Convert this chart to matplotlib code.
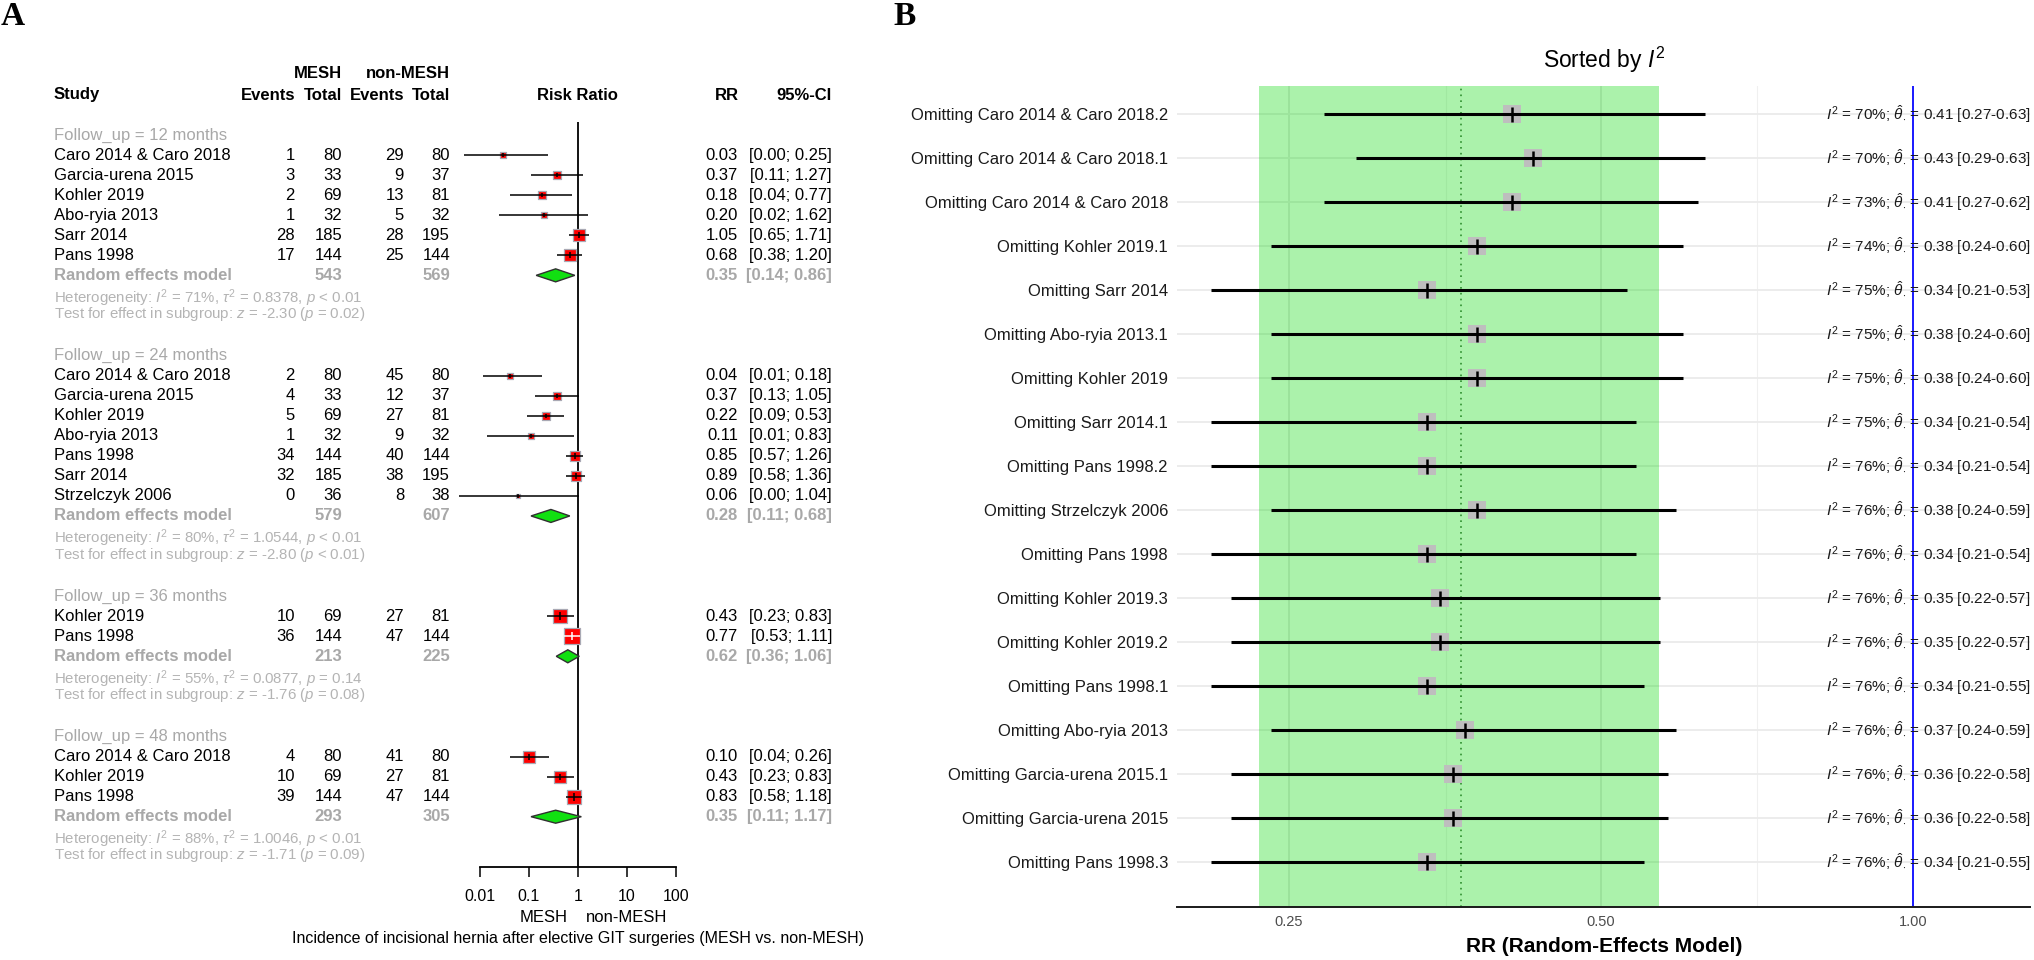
import numpy as np
import matplotlib
matplotlib.use('Agg')
import matplotlib.pyplot as plt
import matplotlib.transforms as mtransforms
from matplotlib.patches import Polygon
from matplotlib.ticker import FixedLocator, NullFormatter

plt.rcParams['font.family'] = ['Liberation Sans', 'DejaVu Sans']
plt.rcParams['mathtext.fontset'] = 'custom'
plt.rcParams['mathtext.rm'] = 'Liberation Sans'
plt.rcParams['mathtext.it'] = 'Liberation Sans:italic'
plt.rcParams['mathtext.bf'] = 'Liberation Sans:bold'

# ---------------- Panel A data ----------------
group_labels = ["Follow_up = 12 months", "Follow_up = 24 months",
                "Follow_up = 36 months", "Follow_up = 48 months"]

studies_12 = ["Caro 2014 & Caro 2018", "Garcia-urena 2015", "Kohler 2019",
              "Abo-ryia 2013", "Sarr 2014", "Pans 1998"]
ev_mesh_12 = [1, 3, 2, 1, 28, 17]
tot_mesh_12 = [80, 33, 69, 32, 185, 144]
ev_non_12 = [29, 9, 13, 5, 28, 25]
tot_non_12 = [80, 37, 81, 32, 195, 144]
rr_12 = [0.03, 0.37, 0.18, 0.20, 1.05, 0.68]
lo_12 = [0.0047, 0.11, 0.04, 0.0245, 0.65, 0.38]
hi_12 = [0.25, 1.27, 0.77, 1.62, 1.71, 1.20]
w_12 = [9, 12, 12, 9, 31, 27]

studies_24 = ["Caro 2014 & Caro 2018", "Garcia-urena 2015", "Kohler 2019",
              "Abo-ryia 2013", "Pans 1998", "Sarr 2014", "Strzelczyk 2006"]
ev_mesh_24 = [2, 4, 5, 1, 34, 32, 0]
tot_mesh_24 = [80, 33, 69, 32, 144, 185, 36]
ev_non_24 = [45, 12, 27, 9, 40, 38, 8]
tot_non_24 = [80, 37, 81, 32, 144, 195, 38]
rr_24 = [0.04, 0.37, 0.22, 0.11, 0.85, 0.89, 0.06]
lo_24 = [0.0115, 0.13, 0.09, 0.014, 0.57, 0.58, 0.0037]
hi_24 = [0.18, 1.05, 0.53, 0.83, 1.26, 1.36, 1.04]
w_24 = [6, 11, 14, 8, 23, 23, 2]

studies_36 = ["Kohler 2019", "Pans 1998"]
ev_mesh_36 = [10, 36]
tot_mesh_36 = [69, 144]
ev_non_36 = [27, 47]
tot_non_36 = [81, 144]
rr_36 = [0.43, 0.77]
lo_36 = [0.23, 0.53]
hi_36 = [0.83, 1.11]
w_36 = [46, 54]

studies_48 = ["Caro 2014 & Caro 2018", "Kohler 2019", "Pans 1998"]
ev_mesh_48 = [4, 10, 39]
tot_mesh_48 = [80, 69, 144]
ev_non_48 = [41, 27, 47]
tot_non_48 = [80, 81, 144]
rr_48 = [0.10, 0.43, 0.83]
lo_48 = [0.04, 0.23, 0.58]
hi_48 = [0.26, 0.83, 1.18]
w_48 = [32, 32, 36]

re_rr = [0.35, 0.28, 0.62, 0.35]
re_lo = [0.14, 0.11, 0.36, 0.11]
re_hi = [0.86, 0.68, 1.06, 1.17]
re_tot_mesh = [543, 579, 213, 293]
re_tot_non = [569, 607, 225, 305]
het_i2 = ["71%", "80%", "55%", "88%"]
het_tau2 = ["0.8378", "1.0544", "0.0877", "1.0046"]
het_p = ["< 0.01", "< 0.01", "= 0.14", "< 0.01"]
test_z = ["-2.30", "-2.80", "-1.76", "-1.71"]
test_p = ["= 0.02", "< 0.01", "= 0.08", "= 0.09"]

a_ticks = [0.01, 0.1, 1, 10, 100]
a_ticklabels = ["0.01", "0.1", "1", "10", "100"]

# ---------------- Panel B data ----------------
b_labels = ["Omitting Caro 2014 & Caro 2018.2", "Omitting Caro 2014 & Caro 2018.1",
            "Omitting Caro 2014 & Caro 2018", "Omitting Kohler 2019.1",
            "Omitting Sarr 2014", "Omitting Abo-ryia 2013.1", "Omitting Kohler 2019",
            "Omitting Sarr 2014.1", "Omitting Pans 1998.2", "Omitting Strzelczyk 2006",
            "Omitting Pans 1998", "Omitting Kohler 2019.3", "Omitting Kohler 2019.2",
            "Omitting Pans 1998.1", "Omitting Abo-ryia 2013", "Omitting Garcia-urena 2015.1",
            "Omitting Garcia-urena 2015", "Omitting Pans 1998.3"]
b_i2 = [70, 70, 73, 74, 75, 75, 75, 75, 76, 76, 76, 76, 76, 76, 76, 76, 76, 76]
b_est = [0.41, 0.43, 0.41, 0.38, 0.34, 0.38, 0.38, 0.34, 0.34, 0.38, 0.34, 0.35,
         0.35, 0.34, 0.37, 0.36, 0.36, 0.34]
b_lo = [0.27, 0.29, 0.27, 0.24, 0.21, 0.24, 0.24, 0.21, 0.21, 0.24, 0.21, 0.22,
        0.22, 0.21, 0.24, 0.22, 0.22, 0.21]
b_hi = [0.63, 0.63, 0.62, 0.60, 0.53, 0.60, 0.60, 0.54, 0.54, 0.59, 0.54, 0.57,
        0.57, 0.55, 0.59, 0.58, 0.58, 0.55]
pooled_est = 0.366
pooled_lo = 0.234
pooled_hi = 0.569
b_ticks = [0.25, 0.5, 1.0]
b_ticklabels = ["0.25", "0.50", "1.00"]
b_minor = [0.177, 0.354, 0.707, 1.414]

# ---------------- figure ----------------
W, H = 2034, 960
fig = plt.figure(figsize=(W / 100, H / 100), dpi=100)


def fx(px):
    return px / W


def fy(py):
    return 1 - py / H


GREY = '#a8a8a8'
HETGREY = '#b4b4b4'
FS = 12

# ---- Panel A ----
A_L, A_R, A_T, A_B = 440, 720, 60, 867
PPD = 49.0          # pixels per decade
X0 = 480            # pixel position of 0.01
ROW0, STEP = 135, 20.05
axA = fig.add_axes([fx(A_L), fy(A_B), (A_R - A_L) / W, (A_B - A_T) / H])
axA.set_xscale('log')
axA.set_xlim(10 ** (-2 + (A_L - X0) / PPD), 10 ** (-2 + (A_R - X0) / PPD))
axA.set_ylim((A_B - ROW0) / STEP, (A_T - ROW0) / STEP)
for s in ['top', 'left', 'right']:
    axA.spines[s].set_visible(False)
axA.spines['bottom'].set_bounds(0.01, 100)
axA.spines['bottom'].set_linewidth(1.3)
axA.set_xticks(a_ticks)
axA.set_xticklabels(a_ticklabels)
axA.xaxis.set_minor_locator(FixedLocator([]))
axA.tick_params(axis='x', direction='out', length=7.5, width=1.1, pad=8,
                labelsize=11.5, colors='black')
axA.set_yticks([])
axA.patch.set_alpha(0)

trA = mtransforms.blended_transform_factory(fig.transFigure, axA.transData)

# reference line at 1
axA.vlines(1, (122 - ROW0) / STEP, (A_B - ROW0) / STEP, color='black', lw=1.3, zorder=2)

groups = [
    (studies_12, ev_mesh_12, tot_mesh_12, ev_non_12, tot_non_12, rr_12, lo_12, hi_12, w_12),
    (studies_24, ev_mesh_24, tot_mesh_24, ev_non_24, tot_non_24, rr_24, lo_24, hi_24, w_24),
    (studies_36, ev_mesh_36, tot_mesh_36, ev_non_36, tot_non_36, rr_36, lo_36, hi_36, w_36),
    (studies_48, ev_mesh_48, tot_mesh_48, ev_non_48, tot_non_48, rr_48, lo_48, hi_48, w_48),
]

X_STUDY, X_EVM, X_TOTM, X_EVN, X_TOTN, X_RR, X_CI = 54, 295, 342, 404, 450, 738, 832
BOXK = 2.2
r = 0
for gi, (names, evm, totm, evn, totn, rr, lo, hi, w) in enumerate(groups):
    axA.text(fx(X_STUDY), r, group_labels[gi], transform=trA, ha='left', va='center',
             fontsize=FS, color=GREY)
    for j in range(len(names)):
        rj = r + 1 + j
        axA.text(fx(X_STUDY), rj, names[j], transform=trA, ha='left', va='center', fontsize=FS)
        axA.text(fx(X_EVM), rj, str(evm[j]), transform=trA, ha='right', va='center', fontsize=FS)
        axA.text(fx(X_TOTM), rj, str(totm[j]), transform=trA, ha='right', va='center', fontsize=FS)
        axA.text(fx(X_EVN), rj, str(evn[j]), transform=trA, ha='right', va='center', fontsize=FS)
        axA.text(fx(X_TOTN), rj, str(totn[j]), transform=trA, ha='right', va='center', fontsize=FS)
        axA.text(fx(X_RR), rj, f"{rr[j]:.2f}", transform=trA, ha='right', va='center', fontsize=FS)
        axA.text(fx(X_CI), rj, f"[{lo[j]:.2f}; {hi[j]:.2f}]", transform=trA, ha='right',
                 va='center', fontsize=FS)
        side_px = BOXK * np.sqrt(w[j])
        half_dec = side_px / 2 / PPD
        inside = (np.log10(hi[j] / rr[j]) < half_dec) and (np.log10(rr[j] / lo[j]) < half_dec)
        lc = 'white' if inside else 'black'
        axA.scatter([rr[j]], [rj], marker='s', s=(side_px * 0.72) ** 2, color='#ff0000',
                    edgecolors='#a9a9b4', linewidths=0.9, zorder=3)
        axA.plot([lo[j], hi[j]], [rj, rj], color=lc, lw=1.1, zorder=4, solid_capstyle='butt')
        axA.scatter([rr[j]], [rj], marker='|', s=(max(side_px * 0.55, 4) * 0.72) ** 2,
                    color=lc, linewidths=1.1, zorder=5)
    rr_row = r + len(names) + 1
    axA.text(fx(X_STUDY), rr_row, "Random effects model", transform=trA, ha='left',
             va='center', fontsize=FS, color=GREY, fontweight='bold')
    axA.text(fx(X_TOTM), rr_row, str(re_tot_mesh[gi]), transform=trA, ha='right',
             va='center', fontsize=FS, color=GREY, fontweight='bold')
    axA.text(fx(X_TOTN), rr_row, str(re_tot_non[gi]), transform=trA, ha='right',
             va='center', fontsize=FS, color=GREY, fontweight='bold')
    axA.text(fx(X_RR), rr_row, f"{re_rr[gi]:.2f}", transform=trA, ha='right',
             va='center', fontsize=FS, color=GREY, fontweight='bold')
    axA.text(fx(X_CI), rr_row, f"[{re_lo[gi]:.2f}; {re_hi[gi]:.2f}]", transform=trA,
             ha='right', va='center', fontsize=FS, color=GREY, fontweight='bold')
    hh = 6.5 / STEP
    diamond = Polygon([(re_lo[gi], rr_row), (re_rr[gi], rr_row - hh), (re_hi[gi], rr_row),
                       (re_rr[gi], rr_row + hh)], closed=True, facecolor='#11e011',
                      edgecolor='#303030', lw=1.0, zorder=4)
    axA.add_patch(diamond)
    axA.text(fx(X_STUDY), rr_row + 1.13,
             "Heterogeneity: $I^2$ = " + het_i2[gi] + r", $\tau^2$ = " + het_tau2[gi]
             + ", $p$ " + het_p[gi],
             transform=trA, ha='left', va='center', fontsize=10.8, color=HETGREY)
    axA.text(fx(X_STUDY), rr_row + 1.93,
             "Test for effect in subgroup: $z$ = " + test_z[gi] + " ($p$ " + test_p[gi] + ")",
             transform=trA, ha='left', va='center', fontsize=10.8, color=HETGREY)
    r = r + len(names) + 5

# headers panel A
fig.text(fx(X_TOTM), fy(73), "MESH", ha='right', va='center', fontsize=FS, fontweight='bold')
fig.text(fx(X_TOTN), fy(73), "non-MESH", ha='right', va='center', fontsize=FS, fontweight='bold')
fig.text(fx(X_STUDY), fy(95), "Study", ha='left', va='center', fontsize=FS, fontweight='bold')
for xp, t in [(X_EVM, "Events"), (X_TOTM, "Total"), (X_EVN, "Events"), (X_TOTN, "Total")]:
    fig.text(fx(xp), fy(95), t, ha='right', va='center', fontsize=FS, fontweight='bold')
fig.text(fx(577), fy(95), "Risk Ratio", ha='center', va='center', fontsize=FS, fontweight='bold')
fig.text(fx(727), fy(95), "RR", ha='center', va='center', fontsize=FS, fontweight='bold')
fig.text(fx(X_CI), fy(95), "95%-CI", ha='right', va='center', fontsize=FS, fontweight='bold')

fig.text(fx(568), fy(918), "MESH", ha='right', va='center', fontsize=FS)
fig.text(fx(586), fy(918), "non-MESH", ha='left', va='center', fontsize=FS)
fig.text(fx(578), fy(939),
         "Incidence of incisional hernia after elective GIT surgeries (MESH vs. non-MESH)",
         ha='center', va='center', fontsize=11.5)

# ---- Panel B ----
B_L, B_R, B_T, B_B = 1177, 2030, 86, 907
PPO = 312.0   # pixels per doubling
X25 = 1289
BROW0, BSTEP = 114, 44.0
axB = fig.add_axes([fx(B_L), fy(B_B), (B_R - B_L) / W, (B_B - B_T) / H])
axB.set_xscale('log', base=2)
axB.set_xlim(0.25 * 2 ** ((B_L - X25) / PPO), 0.25 * 2 ** ((B_R - X25) / PPO))
nrow = len(b_labels)
rows = np.arange(1, nrow + 1)
axB.set_ylim(1 + (B_B - BROW0) / BSTEP, 1 + (B_T - BROW0) / BSTEP)
for s in ['top', 'left', 'right']:
    axB.spines[s].set_visible(False)
axB.spines['bottom'].set_linewidth(1.4)
axB.spines['bottom'].set_color('#1a1a1a')
axB.set_xticks(b_ticks)
axB.set_xticklabels(b_ticklabels)
axB.xaxis.set_minor_locator(FixedLocator(b_minor))
axB.xaxis.set_minor_formatter(NullFormatter())
axB.tick_params(axis='x', which='both', length=0, pad=6, labelsize=10.5, labelcolor='#4d4d4d')
axB.set_yticks(rows)
axB.set_yticklabels(b_labels)
axB.tick_params(axis='y', length=0, pad=6.5, labelsize=12, labelcolor='#1a1a1a')
axB.set_axisbelow(True)
axB.grid(axis='y', color='#ebebeb', lw=1.3)
axB.grid(axis='x', which='major', color='#e6e6e6', lw=1.3)
axB.grid(axis='x', which='minor', color='#f0f0f0', lw=0.8)

axB.axvspan(pooled_lo, pooled_hi, facecolor='#00d800', alpha=0.33, lw=0, zorder=1)
axB.axvline(pooled_est, color='#2f8f2f', ls=(0, (1, 2.5)), lw=1.2, zorder=2)
axB.axvline(1.0, color='#1a1aff', lw=1.4, zorder=2)

axB.scatter(b_est, rows, marker='s', s=(18 * 0.72) ** 2, color='#bebebe', lw=0, zorder=3)
axB.hlines(rows, b_lo, b_hi, color='black', lw=2.2, zorder=4)
axB.scatter(b_est, rows, marker='|', s=(15 * 0.72) ** 2, color='black', linewidths=1.8, zorder=5)

trB = mtransforms.blended_transform_factory(fig.transFigure, axB.transData)
for i in range(nrow):
    axB.text(fx(2031), rows[i],
             "$I^2$ = %d%%; " % b_i2[i] + r"$\hat{\theta}_{\cdot}$" +
             " = %.2f [%.2f-%.2f]" % (b_est[i], b_lo[i], b_hi[i]),
             transform=trB, ha='right', va='center', fontsize=11, color='#1a1a1a', zorder=6)

fig.text(fx(1604), fy(60), "Sorted by $I^2$", ha='center', va='center', fontsize=16.5)
fig.text(fx(1604), fy(946), "RR (Random-Effects Model)", ha='center', va='center',
         fontsize=15, fontweight='bold')

# panel letters
fig.text(fx(1), fy(1), "A", ha='left', va='top', fontsize=24, fontweight='bold',
         family='Liberation Serif')
fig.text(fx(893), fy(1), "B", ha='left', va='top', fontsize=24, fontweight='bold',
         family='Liberation Serif')

fig.savefig('out.png', dpi=100)
